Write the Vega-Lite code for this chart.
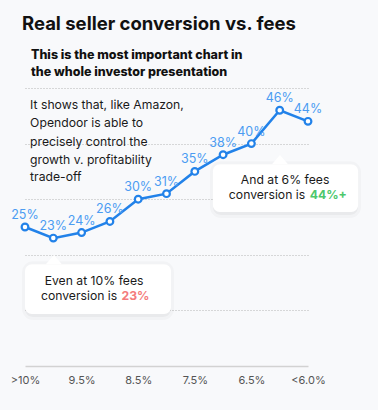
{
  "$schema": "https://vega.github.io/schema/vega-lite/v6.json",
  "width": 283,
  "height": 278,
  "autosize": "none",
  "padding": {"left": 25, "top": 88, "right": 70, "bottom": 44},
  "background": "#f8f9fb",
  "config": {"view": {"stroke": null}, "font": "Inter", "text": {"font": "Inter"}},
  "title": {"text": "Real seller conversion vs. fees", "anchor": "start", "frame": "group", "dx": -3, "fontSize": 18.5, "fontWeight": "bold", "color": "#111111", "font": "Inter", "offset": 16},
  "datasets": {
    "conv": [
      {"fee": ">10%", "conversion": 0.25},
      {"fee": "10%", "conversion": 0.23},
      {"fee": "9.5%", "conversion": 0.24},
      {"fee": "9%", "conversion": 0.26},
      {"fee": "8.5%", "conversion": 0.30},
      {"fee": "8%", "conversion": 0.31},
      {"fee": "7.5%", "conversion": 0.35},
      {"fee": "7%", "conversion": 0.38},
      {"fee": "6.5%", "conversion": 0.40},
      {"fee": "6%", "conversion": 0.46},
      {"fee": "<6.0%", "conversion": 0.44}
    ],
    "boxes": [
      {"x0": 6.64, "x1": 11.77, "y0": 0.277, "y1": 0.363, "px": 9.01},
      {"x0": 0, "x1": 5.16, "y0": 0.0935, "y1": 0.183, "px": 1.02}
    ],
    "notes": [
      {"kind": "sub", "text": "This is the most important chart in", "x": 0.21, "y": 0.559},
      {"kind": "sub", "text": "the whole investor presentation", "x": 0.21, "y": 0.529},
      {"kind": "body", "text": "It shows that, like Amazon,", "x": 0.18, "y": 0.469},
      {"kind": "body", "text": "Opendoor is able to", "x": 0.18, "y": 0.437},
      {"kind": "body", "text": "precisely control the", "x": 0.18, "y": 0.403},
      {"kind": "body", "text": "growth v. profitability", "x": 0.18, "y": 0.371},
      {"kind": "body", "text": "trade-off", "x": 0.18, "y": 0.340},
      {"kind": "center", "text": "And at 6% fees", "x": 9.19, "y": 0.334},
      {"kind": "right", "text": "conversion is", "x": 9.90, "y": 0.307},
      {"kind": "good", "text": "44%+", "x": 10.06, "y": 0.307},
      {"kind": "center", "text": "Even at 10% fees", "x": 2.44, "y": 0.153},
      {"kind": "right", "text": "conversion is", "x": 3.26, "y": 0.126},
      {"kind": "bad", "text": "23%", "x": 3.41, "y": 0.126}
    ]
  },
  "layer": [
    {
      "layer": [
        {
          "data": {"name": "boxes"},
          "mark": {"type": "rect", "fill": "#000000", "fillOpacity": 0.035, "stroke": "#000000", "strokeOpacity": 0.025, "strokeWidth": 6, "cornerRadius": 8, "yOffset": 3},
          "encoding": {
            "x": {"field": "x0", "type": "quantitative", "scale": {"domain": [0, 10], "nice": false, "zero": false}, "axis": null},
            "x2": {"field": "x1"},
            "y": {"field": "y0", "type": "quantitative"},
            "y2": {"field": "y1"}
          }
        },
        {
          "data": {"name": "boxes"},
          "mark": {"type": "rect", "fill": "#ffffff", "cornerRadius": 7},
          "encoding": {
            "x": {"field": "x0", "type": "quantitative", "scale": {"domain": [0, 10], "nice": false, "zero": false}, "axis": null},
            "x2": {"field": "x1"},
            "y": {"field": "y0", "type": "quantitative"},
            "y2": {"field": "y1"}
          }
        },
        {
          "data": {"name": "boxes"},
          "mark": {"type": "point", "shape": "M -1 0 L 0 -1.15 L 1 0 Z", "size": 256, "filled": true, "fill": "#ffffff", "opacity": 1, "strokeWidth": 0},
          "encoding": {
            "x": {"field": "px", "type": "quantitative", "scale": {"domain": [0, 10], "nice": false, "zero": false}, "axis": null},
            "y": {"field": "y1", "type": "quantitative"}
          }
        },
        {
          "data": {"name": "notes"},
          "transform": [{"filter": "datum.kind == 'sub'"}],
          "mark": {"type": "text", "align": "left", "baseline": "middle", "fontSize": 12.5, "fontWeight": 800, "color": "#111111"},
          "encoding": {
            "x": {"field": "x", "type": "quantitative", "scale": {"domain": [0, 10], "nice": false, "zero": false}, "axis": null},
            "y": {"field": "y", "type": "quantitative"},
            "text": {"field": "text"}
          }
        },
        {
          "data": {"name": "notes"},
          "transform": [{"filter": "datum.kind == 'body'"}],
          "mark": {"type": "text", "align": "left", "baseline": "middle", "fontSize": 12.2, "color": "#1a1a1a"},
          "encoding": {
            "x": {"field": "x", "type": "quantitative", "scale": {"domain": [0, 10], "nice": false, "zero": false}, "axis": null},
            "y": {"field": "y", "type": "quantitative"},
            "text": {"field": "text"}
          }
        },
        {
          "data": {"name": "notes"},
          "transform": [{"filter": "datum.kind == 'center'"}],
          "mark": {"type": "text", "align": "center", "baseline": "middle", "fontSize": 12.2, "color": "#1a1a1a"},
          "encoding": {
            "x": {"field": "x", "type": "quantitative", "scale": {"domain": [0, 10], "nice": false, "zero": false}, "axis": null},
            "y": {"field": "y", "type": "quantitative"},
            "text": {"field": "text"}
          }
        },
        {
          "data": {"name": "notes"},
          "transform": [{"filter": "datum.kind == 'right'"}],
          "mark": {"type": "text", "align": "right", "baseline": "middle", "fontSize": 12.2, "color": "#1a1a1a"},
          "encoding": {
            "x": {"field": "x", "type": "quantitative", "scale": {"domain": [0, 10], "nice": false, "zero": false}, "axis": null},
            "y": {"field": "y", "type": "quantitative"},
            "text": {"field": "text"}
          }
        },
        {
          "data": {"name": "notes"},
          "transform": [{"filter": "datum.kind == 'good'"}],
          "mark": {"type": "text", "align": "left", "baseline": "middle", "fontSize": 12.2, "fontWeight": "bold", "color": "#4cc76c"},
          "encoding": {
            "x": {"field": "x", "type": "quantitative", "scale": {"domain": [0, 10], "nice": false, "zero": false}, "axis": null},
            "y": {"field": "y", "type": "quantitative"},
            "text": {"field": "text"}
          }
        },
        {
          "data": {"name": "notes"},
          "transform": [{"filter": "datum.kind == 'bad'"}],
          "mark": {"type": "text", "align": "left", "baseline": "middle", "fontSize": 12.2, "fontWeight": "bold", "color": "#f47c7c"},
          "encoding": {
            "x": {"field": "x", "type": "quantitative", "scale": {"domain": [0, 10], "nice": false, "zero": false}, "axis": null},
            "y": {"field": "y", "type": "quantitative"},
            "text": {"field": "text"}
          }
        }
      ]
    },
    {
      "data": {"name": "conv"},
      "encoding": {
        "x": {"field": "fee", "type": "ordinal", "sort": null, "scale": {"type": "point", "padding": 0},
          "axis": {"values": [">10%", "9.5%", "8.5%", "7.5%", "6.5%", "<6.0%"], "title": null, "labelAngle": 0, "ticks": false, "domainColor": "#d2d2d2", "domainWidth": 1.5, "labelColor": "#555555", "labelFontSize": 11, "labelPadding": 8, "grid": false, "labelFont": "Inter"}},
        "y": {"field": "conversion", "type": "quantitative", "scale": {"domain": [0, 0.5], "nice": false},
          "axis": {"values": [0.1, 0.2, 0.3, 0.4, 0.5], "title": null, "labels": false, "ticks": false, "domain": false, "grid": true, "gridDash": [1, 2], "gridColor": "#b5b5b5", "gridWidth": 1}}
      },
      "layer": [
        {"mark": {"type": "line", "color": "#2282e9", "strokeWidth": 2.5}},
        {"mark": {"type": "point", "filled": true, "fill": "#ffffff", "stroke": "#2282e9", "strokeWidth": 2.2, "size": 45, "opacity": 1}},
        {"mark": {"type": "text", "dy": -12, "baseline": "middle", "fontSize": 12.5, "color": "#4b9cf2"},
          "encoding": {"text": {"field": "conversion", "type": "quantitative", "format": ".0%"}}}
      ]
    }
  ],
  "resolve": {"scale": {"x": "independent"}}
}
